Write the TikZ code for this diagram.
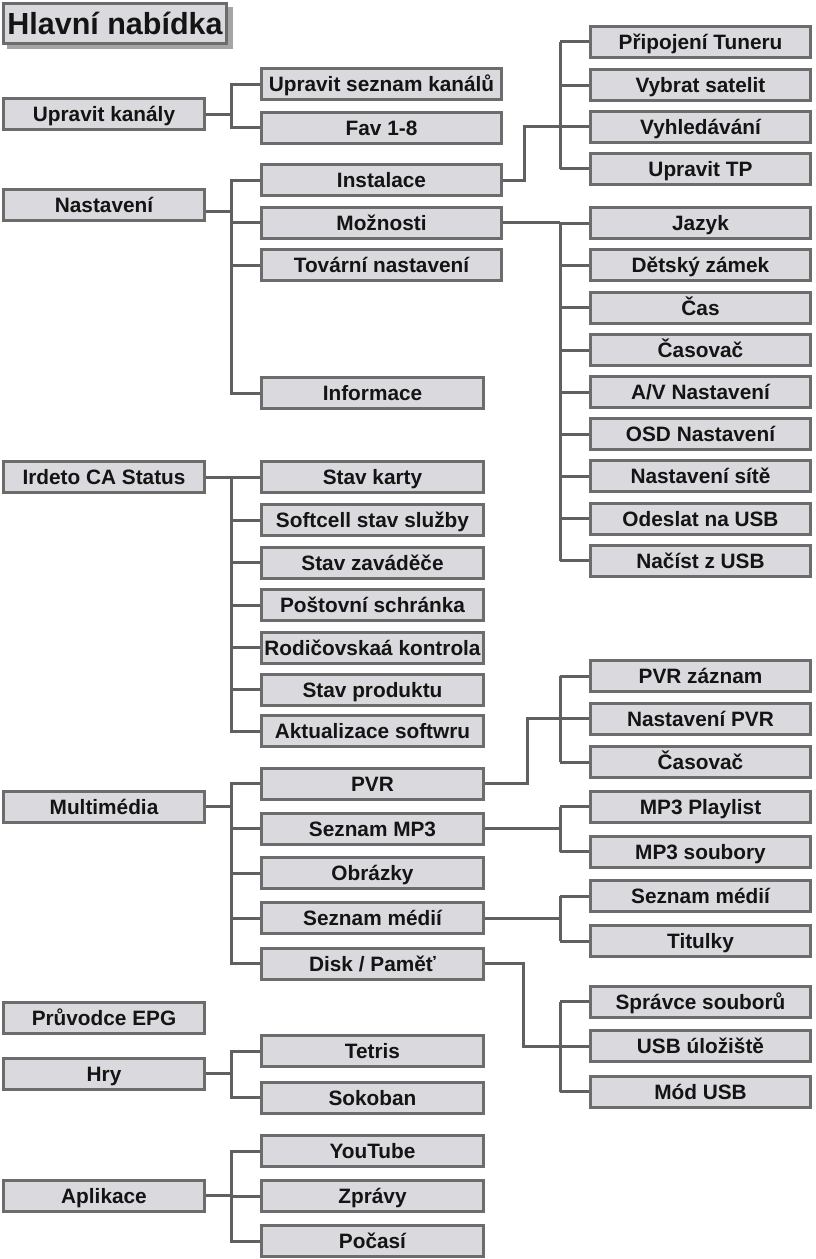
\documentclass[tikz,border=0pt]{standalone}
\usepackage{fontspec}
\setmainfont{Liberation Sans}
\usetikzlibrary{calc}
\definecolor{boxfill}{RGB}{217,217,222}
\definecolor{boxline}{RGB}{108,108,108}
\definecolor{conncol}{RGB}{96,96,96}
\definecolor{shadowc}{RGB}{165,165,165}
\definecolor{txt}{RGB}{20,20,20}
\begin{document}
\begin{tikzpicture}[x=1pt,y=-1pt,
  box/.style={draw=boxline, line width=3pt, fill=boxfill, inner sep=0pt,
    minimum height=31pt, text height=15pt, text depth=0pt,
    font=\fontsize{20.8}{24}\selectfont\bfseries, text=txt, align=center},
  cola/.style={box, minimum width=201pt},
  colb/.style={box, minimum width=222pt},
  colbl/.style={box, minimum width=240pt},
  colc/.style={box, minimum width=220pt},
  titlebox/.style={draw=boxline, line width=3pt, fill=boxfill, inner sep=0pt,
    minimum width=223pt, minimum height=40pt, text height=22pt, text depth=0pt,
    font=\fontsize{30.5}{34}\selectfont\bfseries, text=txt},
  conn/.style={draw=conncol, line width=3pt},
]
\useasboundingbox (0,0) rectangle (816,1259);
\coordinate (bx) at (560,0);

% title
\fill[shadowc] (7,7) rectangle (233,49);
\node[titlebox] (hn) at (115,23.5) {Hlavní nabídka};

% column 1
\node[cola] (uk) at (104,114) {Upravit kanály};
\node[cola] (nast) at (104,204.5) {Nastavení};
\node[cola] (irdeto) at (104,477) {Irdeto CA Status};
\node[cola] (multi) at (104,806.5) {Multimédia};
\node[cola] (epg) at (104,1017.5) {Průvodce EPG};
\node[cola] (hry) at (104,1073.5) {Hry};
\node[cola] (apl) at (104,1195.5) {Aplikace};

% column 2
\node[colbl] (usk) at (381.5,84) {Upravit seznam kanálů};
\node[colbl] (fav) at (381.5,127.5) {Fav 1-8};
\node[colbl] (inst) at (381.5,180) {Instalace};
\node[colbl] (mozn) at (381.5,222.5) {Možnosti};
\node[colbl] (tov) at (381.5,265) {Tovární nastavení};
\node[colb] (info) at (372.5,393) {Informace};
\node[colb] (sk) at (372.5,477) {Stav karty};
\node[colb] (soft) at (372.5,520) {Softcell stav služby};
\node[colb] (zav) at (372.5,562.5) {Stav zaváděče};
\node[colb] (post) at (372.5,605) {Poštovní schránka};
\node[colb] (rod) at (372.5,647.5) {Rodičovskaá kontrola};
\node[colb] (prod) at (372.5,689.5) {Stav produktu};
\node[colb] (akt) at (372.5,731) {Aktualizace softwru};
\node[colb] (pvr) at (372.5,783.5) {PVR};
\node[colb] (mp3) at (372.5,828.5) {Seznam MP3};
\node[colb] (obr) at (372.5,873) {Obrázky};
\node[colb] (smed) at (372.5,918) {Seznam médií};
\node[colb] (disk) at (372.5,963.5) {Disk / Paměť};
\node[colb] (tetris) at (372.5,1051) {Tetris};
\node[colb] (sokoban) at (372.5,1097.5) {Sokoban};
\node[colb] (yt) at (372.5,1151) {YouTube};
\node[colb] (zpr) at (372.5,1196) {Zprávy};
\node[colb] (poc) at (372.5,1241) {Počasí};

% column 3
\node[colc] (tuner) at (700.5,41.5) {Připojení Tuneru};
\node[colc] (sat) at (700.5,85) {Vybrat satelit};
\node[colc] (vyhl) at (700.5,126.5) {Vyhledávání};
\node[colc] (utp) at (700.5,168.5) {Upravit TP};
\node[colc] (jaz) at (700.5,223) {Jazyk};
\node[colc] (det) at (700.5,265) {Dětský zámek};
\node[colc] (cas) at (700.5,307.5) {Čas};
\node[colc] (casov) at (700.5,350) {Časovač};
\node[colc] (av) at (700.5,392) {A/V Nastavení};
\node[colc] (osd) at (700.5,434) {OSD Nastavení};
\node[colc] (sit) at (700.5,476) {Nastavení sítě};
\node[colc] (ods) at (700.5,518.5) {Odeslat na USB};
\node[colc] (nac) at (700.5,560.5) {Načíst z USB};
\node[colc] (pvrz) at (700.5,676) {PVR záznam};
\node[colc] (npvr) at (700.5,718.5) {Nastavení PVR};
\node[colc] (casov2) at (700.5,762) {Časovač};
\node[colc] (mp3p) at (700.5,806.5) {MP3 Playlist};
\node[colc] (mp3s) at (700.5,851.5) {MP3 soubory};
\node[colc] (smed2) at (700.5,896) {Seznam médií};
\node[colc] (tit) at (700.5,941) {Titulky};
\node[colc] (sprav) at (700.5,1001.5) {Správce souborů};
\node[colc] (usb) at (700.5,1046) {USB úložiště};
\node[colc] (mod) at (700.5,1091.5) {Mód USB};

% connectors column 1 -> column 2
\foreach \c in {usk,fav} \draw[conn] (uk.east) -- ++(25.5,0) |- (\c.west);
\foreach \c in {inst,mozn,tov,info} \draw[conn] ([yshift=-7pt]nast.east) -- ++(25.5,0) |- (\c.west);
\foreach \c in {sk,soft,zav,post,rod,prod,akt} \draw[conn] (irdeto.east) -- ++(25.5,0) |- (\c.west);
\foreach \c in {pvr,mp3,obr,smed,disk} \draw[conn] (multi.east) -- ++(25.5,0) |- (\c.west);
\foreach \c in {tetris,sokoban} \draw[conn] (hry.east) -- ++(25.5,0) |- (\c.west);
\foreach \c in {yt,zpr,poc} \draw[conn] (apl.east) -- ++(25.5,0) |- (\c.west);

% connectors column 2 -> column 3
\draw[conn] (inst.east) -- ++(21.5,0) |- (vyhl.west);
\draw[conn] (bx |- tuner.west) -- (bx |- utp.west);
\foreach \c in {tuner,sat,vyhl,utp} \draw[conn] (bx |- \c.west) -- (\c.west);

\draw[conn] (mozn.east) -- (bx |- mozn.east);
\draw[conn] (bx |- jaz.west) -- (bx |- nac.west);
\foreach \c in {jaz,det,cas,casov,av,osd,sit,ods,nac} \draw[conn] (bx |- \c.west) -- (\c.west);

\draw[conn] (pvr.east) -- ++(42.5,0) |- (npvr.west);
\draw[conn] (bx |- pvrz.west) -- (bx |- casov2.west);
\foreach \c in {pvrz,npvr,casov2} \draw[conn] (bx |- \c.west) -- (\c.west);

\draw[conn] (mp3.east) -- (bx |- mp3.east);
\draw[conn] (bx |- mp3p.west) -- (bx |- mp3s.west);
\foreach \c in {mp3p,mp3s} \draw[conn] (bx |- \c.west) -- (\c.west);

\draw[conn] (smed.east) -- (bx |- smed.east);
\draw[conn] (bx |- smed2.west) -- (bx |- tit.west);
\foreach \c in {smed2,tit} \draw[conn] (bx |- \c.west) -- (\c.west);

\draw[conn] (disk.east) -- ++(38.5,0) |- (usb.west);
\draw[conn] (bx |- sprav.west) -- (bx |- mod.west);
\foreach \c in {sprav,usb,mod} \draw[conn] (bx |- \c.west) -- (\c.west);
\end{tikzpicture}
\end{document}
